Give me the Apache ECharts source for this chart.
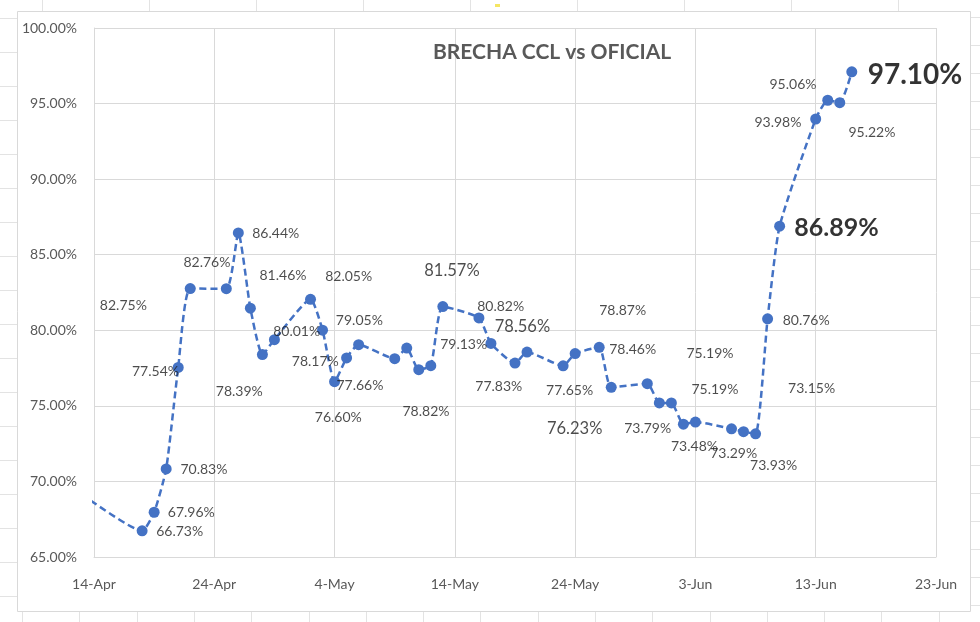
<!DOCTYPE html>
<html>
<head>
<meta charset="utf-8">
<script src="https://cdn.jsdelivr.net/npm/echarts@6/dist/echarts.min.js"></script>
<style>
html,body{margin:0;padding:0;background:#fff;}
#chart{width:980px;height:622px;}
</style>
</head>
<body>
<div id="chart"></div>
<script>
// ---- DATA ----
const chartTitle = 'BRECHA CCL vs OFICIAL';
const dates = ['2022-04-13','2022-04-18','2022-04-19','2022-04-20','2022-04-21','2022-04-22','2022-04-25','2022-04-26','2022-04-27','2022-04-28','2022-04-29','2022-05-02','2022-05-03','2022-05-04','2022-05-05','2022-05-06','2022-05-09','2022-05-10','2022-05-11','2022-05-12','2022-05-13','2022-05-16','2022-05-17','2022-05-19','2022-05-20','2022-05-23','2022-05-24','2022-05-26','2022-05-27','2022-05-30','2022-05-31','2022-06-01','2022-06-02','2022-06-03','2022-06-06','2022-06-07','2022-06-08','2022-06-09','2022-06-10','2022-06-13','2022-06-14','2022-06-15','2022-06-16'];
const brecha = [69.15,66.73,67.96,70.83,77.54,82.76,82.75,86.44,81.46,78.39,79.38,82.05,80.01,76.60,78.17,79.05,78.12,78.82,77.39,77.66,81.57,80.82,79.13,77.83,78.56,77.65,78.46,78.87,76.23,76.47,75.19,75.19,73.79,73.93,73.48,73.29,73.15,80.76,86.89,93.98,95.22,95.06,97.10];
const axisStartDate = '2022-04-14';
const axisEndDate = '2022-06-23';
const yTicks = [65,70,75,80,85,90,95,100];
const labelTexts = ['82.75%','82.76%','86.44%','81.46%','82.05%','77.54%','78.39%','80.01%','78.17%','79.05%','77.66%','76.60%','78.82%','81.57%','80.82%','79.13%','78.56%','77.83%','77.65%','76.23%','78.87%','78.46%','73.79%','75.19%','75.19%','73.48%','73.29%','73.93%','73.15%','80.76%','86.89%','93.98%','95.06%','95.22%','97.10%','70.83%','67.96%','66.73%'];

// ---- LAYOUT (label anchors in axis units: [days from axis start, percent], and style kind) ----
const labelAnchors = [[2.44,81.61],[9.39,84.50],[15.11,86.42],[15.71,83.64],[21.17,83.59],[5.11,77.26],[12.08,75.94],[16.85,79.91],[18.40,77.92],[22.06,80.68],[22.11,76.38],[20.31,74.24],[27.60,74.61],[29.76,83.94],[33.81,81.56],[30.73,79.03],[35.62,80.24],[33.65,76.27],[39.54,76.05],[39.96,73.52],[43.95,81.34],[44.78,78.70],[46.03,73.47],[51.21,78.48],[51.62,76.10],[49.92,72.30],[53.18,71.86],[56.50,71.04],[59.66,76.16],[59.21,80.68],[61.73,86.75],[56.86,93.73],[58.11,96.23],[64.67,93.07],[68.25,96.89],[9.14,70.76],[8.09,67.93],[7.12,66.67]];
const labelKinds = ['n','n','n','n','n','n','n','n','n','n','n','n','n','L','n','n','L','n','n','L','n','n','n','n','n','n','n','n','n','n','B1','n','n','n','B2','n','n','n'];
const kindStyle = {
  n: {fontSize:14, fontWeight:'normal', color:'#1f1f1f'},
  L: {fontSize:16.5, fontWeight:'normal', color:'#1f1f1f'},
  B1: {fontSize:25, fontWeight:'bold', color:'#000000'},
  B2: {fontSize:28, fontWeight:'bold', color:'#000000'}
};

const DAY = 86400000;
function toUTC(s){const p=s.split('-').map(Number);return Date.UTC(p[0],p[1]-1,p[2]);}
const base = toUTC(axisStartDate);
function dayOff(s){return (toUTC(s)-base)/DAY;}
const MONTHS=['Jan','Feb','Mar','Apr','May','Jun','Jul','Aug','Sep','Oct','Nov','Dec'];
function fmtDay(v){const d=new Date(base+v*DAY);return d.getUTCDate()+'-'+MONTHS[d.getUTCMonth()];}

const lineData = dates.map((d,i)=>[dayOff(d), brecha[i]]);
const labelData = labelTexts.map((t,i)=>({
  value: labelAnchors[i],
  label: Object.assign({show:true, position:'inside', formatter:t, fontFamily:'Lato'}, kindStyle[labelKinds[i]])
}));

const font = 'Lato';
const gridColor = '#d9d9d9';

// decorative spreadsheet cell lines around the chart object
const deco = [];
[42,149,256,363,470,577,684,791,898].forEach(x=>deco.push({type:'line',shape:{x1:x+0.5,y1:0,x2:x+0.5,y2:11},style:{stroke:'#e3e3e3',lineWidth:1},silent:true}));
for(let y=17;y<622;y+=28){deco.push({type:'line',shape:{x1:971,y1:y+0.5,x2:980,y2:y+0.5},style:{stroke:'#e3e3e3',lineWidth:1},silent:true});}
for(let y=18;y<622;y+=34){deco.push({type:'line',shape:{x1:0,y1:y+0.5,x2:17,y2:y+0.5},style:{stroke:'#e3e3e3',lineWidth:1},silent:true});}
for(let x=22;x<971;x+=57.3){deco.push({type:'line',shape:{x1:Math.round(x)+0.5,y1:612,x2:Math.round(x)+0.5,y2:622},style:{stroke:'#e3e3e3',lineWidth:1},silent:true});}
deco.push({type:'rect',shape:{x:17.5,y:11.5,width:953,height:600},style:{fill:'none',stroke:'#d9d9d9',lineWidth:1},silent:true,z:-1});
deco.push({type:'rect',shape:{x:495,y:4,width:5,height:3},style:{fill:'#f5e663'},silent:true});

const chart = echarts.init(document.getElementById('chart'), null, {renderer:'canvas'});
chart.setOption({
  animation:false,
  backgroundColor:'#ffffff',
  title:{text:chartTitle, left:428, top:37,
    textStyle:{fontFamily:font, fontSize:21, fontWeight:'bold', color:'#595959'}},
  graphic: deco,
  grid:{left:94, right:44, top:28, bottom:65, containLabel:false},
  xAxis:{type:'value', min:dayOff(axisStartDate), max:dayOff(axisEndDate), interval:10,
    axisLine:{show:true, lineStyle:{color:gridColor, width:1}},
    axisTick:{show:false},
    splitLine:{show:true, lineStyle:{color:gridColor, width:1}},
    axisLabel:{formatter:fmtDay, fontFamily:font, fontSize:14, color:'#595959', margin:20}},
  yAxis:{type:'value', min:yTicks[0], max:yTicks[yTicks.length-1], interval:yTicks[1]-yTicks[0],
    axisLine:{show:true, lineStyle:{color:gridColor, width:1}},
    axisTick:{show:false},
    splitLine:{show:true, lineStyle:{color:gridColor, width:1}},
    axisLabel:{formatter:v=>v.toFixed(2)+'%', fontFamily:font, fontSize:14, color:'#595959', margin:17}},
  series:[
    {type:'line', data:lineData, clip:true, smooth:0.18, showAllSymbol:true,
      symbol:'circle', symbolSize:11,
      itemStyle:{color:'#4472C4'},
      lineStyle:{color:'#4472C4', width:2.5, type:[7,4]}, z:3},
    {type:'scatter', data:labelData, symbolSize:1, itemStyle:{color:'rgba(0,0,0,0)'}, clip:false, z:5, silent:true}
  ]
});
</script>
</body>
</html>
